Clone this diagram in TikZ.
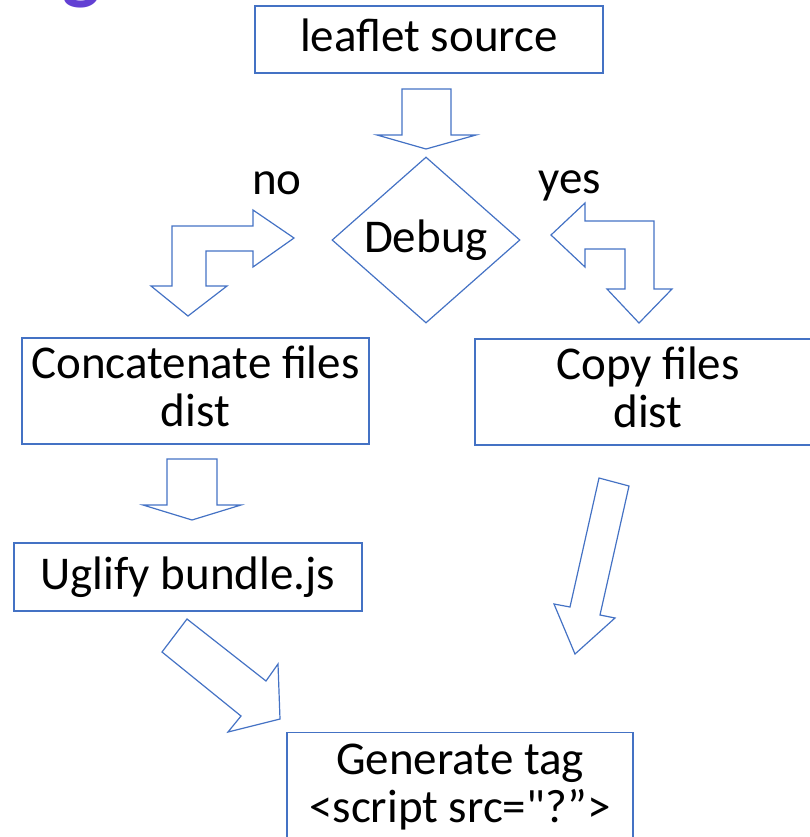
\documentclass[tikz,border=0pt]{standalone}
\usepackage{fontspec}
\setmainfont{Carlito}[Ligatures=TeXOff]
\definecolor{LineBlue}{RGB}{68, 114, 196}
\definecolor{TitleViolet}{RGB}{98, 64, 211}
\usetikzlibrary{shapes.geometric, positioning}
\newcommand{\bigtext}{\fontsize{23.5pt}{24pt}\selectfont}

\begin{document}
\begin{tikzpicture}[x=0.5pt, y=-0.5pt, every node/.style={font=\bigtext},
        stepbox/.style={draw=LineBlue, line width=0.6pt, rectangle, align=center, inner xsep=0pt},
        blockarrow/.style={draw=LineBlue, line width=0.6pt, line join=miter}]
            \useasboundingbox (0,0) rectangle (810,837);
            \clip (0,0) rectangle (810,837);
            \node[anchor=base east, inner sep=0pt, text=TitleViolet, font=\fontsize{40pt}{44pt}\selectfont\bfseries] (title) at (101,-6) {ying};

            \node[stepbox, minimum width=174pt, minimum height=33.5pt, text depth=4pt] (src) at (429,39.5) {leaflet source};
            \node[draw=LineBlue, line width=0.6pt, diamond, aspect=1.13, inner sep=0pt, minimum width=94pt, minimum height=83pt] (debug) at (426,240) {Debug};
            \node[anchor=base] (no) at (277,194) {no};
            \node[anchor=base] (yes) at (570,193) {yes};
            \node[stepbox, minimum width=173.5pt, minimum height=53pt, text depth=5pt] (concat) at (195.5,391) {Concatenate files\\dist};
            \node[stepbox, minimum width=173pt, minimum height=53pt, text depth=5pt] (copy) at (648,392) {Copy files\\dist};
            \node[stepbox, minimum width=174pt, minimum height=34pt] (uglify) at (188,577) {Uglify bundle.js};
            \node[stepbox, anchor=north, minimum width=173pt, inner ysep=5.5pt, text depth=15pt] (gen) at (460,732)
                {Generate tag\\<script src="?”>};

            \draw[blockarrow] (402,89) -- (451,89) -- (451,135) -- (476,135) -- (426,149) -- (377,135) -- (402,135) -- cycle;
            \draw[blockarrow] (294,238) -- (253,210) -- (253,226) -- (172,226) -- (172,286) -- (151,286) -- (188,316)
                -- (227,286) -- (206,286) -- (206,251) -- (253,251) -- (253,267) -- cycle;
            \draw[blockarrow] (551,235) -- (585,203) -- (585,221) -- (654,221) -- (654,289) -- (672,289) -- (639,323)
                -- (607,289) -- (625,289) -- (625,249) -- (585,249) -- (585,267) -- cycle;
            \draw[blockarrow] (167,459) -- (217,459) -- (217,505) -- (241,505) -- (192,520) -- (143,505) -- (167,505) -- cycle;
            \draw[blockarrow] (599,478) -- (629,486) -- (600,615) -- (615,618) -- (575,654) -- (554,604) -- (570,607) -- cycle;
            \draw[blockarrow] (187,619) -- (266,681) -- (278,664) -- (280,719) -- (228,732) -- (241,716) -- (162,652) -- cycle;
        \end{tikzpicture}
\end{document}
